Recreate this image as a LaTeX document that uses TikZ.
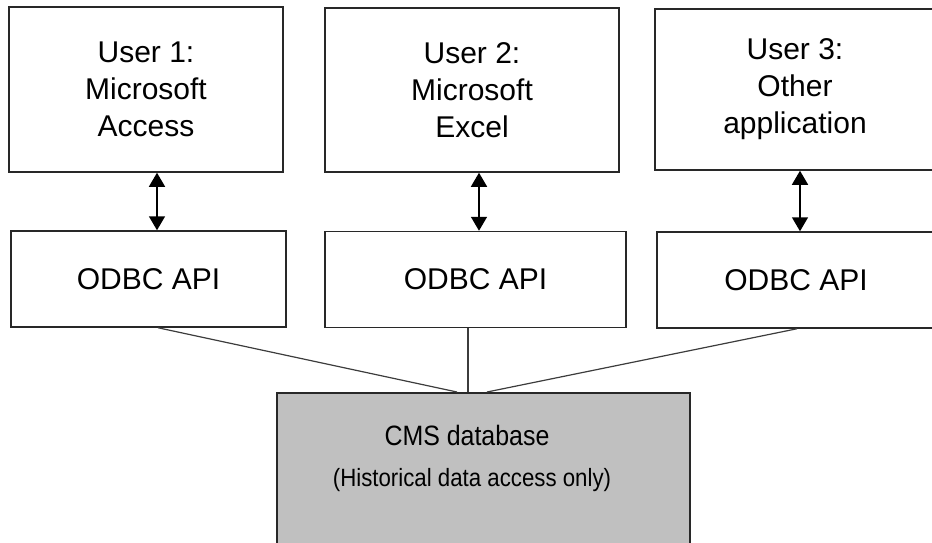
\documentclass[tikz,border=0pt]{standalone}
\usepackage{fontspec}
\setmainfont{Liberation Sans}
\newfontfamily\narrowsans[FakeStretch=0.89]{Liberation Sans}
\usetikzlibrary{arrows.meta,calc}
\definecolor{boxline}{RGB}{40,40,40}
\definecolor{linkgrey}{RGB}{60,60,60}
\definecolor{dbgrey}{RGB}{192,192,192}

\begin{document}
\begin{tikzpicture}[x=1pt, y=-1pt,
    userbox/.style={rectangle, draw=boxline, line width=1.5pt, inner sep=0pt, align=center,
                    font=\fontsize{30}{37}\selectfont},
    apibox/.style={userbox, minimum height=96pt},
    dbbox/.style={rectangle, draw=boxline, fill=dbgrey, line width=2pt, inner sep=0pt,
                  minimum width=413pt, minimum height=167pt},
    link/.style={{Triangle[length=14pt,width=16pt]}-{Triangle[length=14pt,width=16pt]}, line width=1.5pt, black},
    wire/.style={linkgrey, line width=1.2pt}
]
\useasboundingbox (0,0) rectangle (932,542);

\node[userbox, minimum width=274pt, minimum height=165pt] (user1) at (146,89.5) {User 1:\\Microsoft\\Access};
\node[userbox, minimum width=294pt, minimum height=164pt] (user2) at (472,90) {User 2:\\Microsoft\\Excel};
\node[userbox, minimum width=280pt, minimum height=161pt, text depth=6pt] (user3) at (795,89.5) {User 3:\\Other\\application};

\node[apibox, minimum width=275pt] (api1) at (148.5,279) {ODBC API};
\node[apibox, minimum width=301pt] (api2) at (475.5,279.5) {ODBC API};
\node[apibox, minimum width=278pt] (api3) at (796,280) {ODBC API};

\node[dbbox] (cms) at (483.5,476.5) {};
\node[font=\narrowsans\fontsize{28}{34}\selectfont] (cmsname) at (467,435) {CMS database};
\node[font=\narrowsans\fontsize{25}{30}\selectfont] (cmsnote) at (472,480) {(Historical data access only)};

\draw[link] ([xshift=11pt]user1.south) -- ([xshift=11pt]user1.south |- api1.north);
\draw[link] ([xshift=7pt]user2.south) -- ([xshift=7pt]user2.south |- api2.north);
\draw[link] ([xshift=5pt]user3.south) -- ([xshift=5pt]user3.south |- api3.north);

\draw[wire] ([xshift=9.5pt]api1.south) -- ([xshift=-26.5pt]cms.north);
\draw[wire, line width=2.6pt] ([xshift=-7.5pt]api2.south) -- ([xshift=-15.5pt]cms.north);
\draw[wire] ([xshift=1pt]api3.south) -- ([xshift=3.5pt]cms.north);
\end{tikzpicture}
\end{document}
